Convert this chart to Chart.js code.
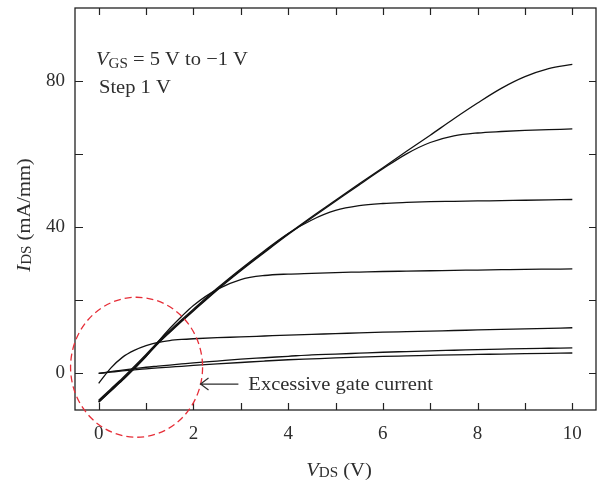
<!DOCTYPE html>
<html>
<head>
<meta charset="utf-8">
<script src="https://cdn.jsdelivr.net/npm/chart.js@4.4.0/dist/chart.umd.min.js"></script>
<style>
  html, body { margin: 0; padding: 0; background: #fff; }
  #wrap { width: 599px; height: 482px; }
</style>
</head>
<body>
<div id="wrap"><canvas id="c" width="599" height="482"></canvas></div>
<script>
/* I-V curves, VGS = 5 V down to -1 V */

// drain voltage samples (V)
const vds = [0, 0.25, 0.5, 0.75, 1, 1.25, 1.5, 1.75, 2, 2.5, 3, 3.5, 4, 4.5, 5, 5.5, 6, 6.5, 7, 7.5, 8, 8.5, 9, 9.5, 10];

// drain current (mA/mm), one array per gate voltage
const ids5  = [-7.6, -4.6, -1.6, 1.6, 4.9, 8.3, 11.4, 14.4, 17.3, 23.0, 28.3, 33.3, 38.2, 42.9, 47.4, 51.9, 56.3, 60.8, 65.2, 69.7, 74.0, 78.0, 81.2, 83.4, 84.6];
const ids4  = [-7.8, -4.8, -1.8, 1.4, 4.7, 8.1, 11.2, 14.2, 17.1, 22.8, 28.1, 33.1, 38.0, 42.6, 47.1, 51.6, 56.0, 60.1, 63.2, 65.0, 65.8, 66.2, 66.5, 66.7, 66.9];
const ids3  = [-7.3, -4.3, -1.3, 1.9, 5.2, 8.6, 11.7, 14.7, 17.6, 23.3, 28.6, 33.6, 38.3, 42.0, 44.6, 45.9, 46.5, 46.8, 47.0, 47.1, 47.2, 47.3, 47.4, 47.5, 47.6];
const ids2  = [-7.9, -4.9, -1.9, 1.3, 4.6, 8.6, 12.3, 15.6, 18.6, 23.0, 25.7, 26.8, 27.2, 27.4, 27.6, 27.75, 27.9, 28.0, 28.1, 28.2, 28.3, 28.4, 28.5, 28.55, 28.6];
const ids1  = [-2.7, 1.4, 4.4, 6.3, 7.6, 8.5, 9.0, 9.3, 9.5, 9.8, 10.0, 10.25, 10.5, 10.7, 10.9, 11.1, 11.3, 11.45, 11.6, 11.75, 11.9, 12.05, 12.2, 12.35, 12.5];
const ids0  = [0, 0.5, 0.9, 1.3, 1.7, 2.0, 2.3, 2.6, 2.9, 3.4, 3.9, 4.3, 4.7, 5.1, 5.3, 5.55, 5.8, 6.0, 6.2, 6.35, 6.5, 6.65, 6.8, 6.9, 7.0];
const idsM1 = [0, 0.35, 0.7, 1.0, 1.25, 1.5, 1.75, 1.95, 2.2, 2.6, 3.0, 3.4, 3.75, 4.0, 4.25, 4.45, 4.65, 4.8, 4.95, 5.1, 5.2, 5.3, 5.4, 5.5, 5.6];

const curves = [ids5, ids4, ids3, ids2, ids1, ids0, idsM1];

// axes
const xMinorTicks = [0, 1, 2, 3, 4, 5, 6, 7, 8, 9, 10];
const xTickLabels = [0, 2, 4, 6, 8, 10];
const yMinorTicks = [0, 20, 40, 60, 80];
const yTickLabels = [0, 40, 80];

const SERIF = '"Liberation Serif", "DejaVu Serif", serif';
const TXT = '#2e2e2e';
const STRETCH = 1.08;   // the original face is a bit wider than Times

function toXY(ys){ return ys.map((v,i)=>({ x: vds[i], y: v })); }

// text pieces with mixed fonts (italic symbol, subscript), drawn left to right
function richWidth(ctx, parts){
  let w = 0;
  parts.forEach(p=>{ ctx.font = p.font; w += ctx.measureText(p.t).width; });
  return w * STRETCH;
}
function drawRich(ctx, parts, x, y){
  ctx.save();
  ctx.translate(x, y);
  ctx.scale(STRETCH, 1);
  let cx = 0;
  parts.forEach(p=>{
    ctx.font = p.font;
    ctx.fillText(p.t, cx, p.dy || 0);
    cx += ctx.measureText(p.t).width;
  });
  ctx.restore();
}

const overlay = {
  id: 'overlay',
  afterDraw(chart){
    const { ctx, chartArea: a, scales: { x, y } } = chart;
    ctx.save();

    // frame
    ctx.strokeStyle = '#222';
    ctx.lineWidth = 1.3;
    ctx.strokeRect(a.left, a.top, a.right - a.left, a.bottom - a.top);

    // inward ticks on all four sides
    ctx.lineWidth = 1.2;
    ctx.beginPath();
    xMinorTicks.forEach(v=>{
      const px = Math.round(x.getPixelForValue(v)) + 0.5;
      ctx.moveTo(px, a.bottom); ctx.lineTo(px, a.bottom - 7);
      ctx.moveTo(px, a.top);    ctx.lineTo(px, a.top + 7);
    });
    yMinorTicks.forEach(v=>{
      const py = Math.round(y.getPixelForValue(v)) + 0.5;
      ctx.moveTo(a.left, py);  ctx.lineTo(a.left + 8, py);
      ctx.moveTo(a.right, py); ctx.lineTo(a.right - 7, py);
    });
    ctx.stroke();

    ctx.fillStyle = TXT;
    ctx.textBaseline = 'alphabetic';
    ctx.textAlign = 'left';

    // legend note
    drawRich(ctx, [
      { t: 'V', font: 'italic 19px ' + SERIF },
      { t: 'GS', font: '14px ' + SERIF, dy: 3 },
      { t: ' = 5 V to \u22121 V', font: '19px ' + SERIF }
    ], 96, 65);
    drawRich(ctx, [{ t: 'Step 1 V', font: '19px ' + SERIF }], 99, 93);

    // axis titles
    const xt = [
      { t: 'V', font: 'italic 19px ' + SERIF },
      { t: 'DS', font: '14px ' + SERIF, dy: 1 },
      { t: ' (V)', font: '19px ' + SERIF }
    ];
    drawRich(ctx, xt, 339 - richWidth(ctx, xt) / 2, 476);

    const yt = [
      { t: 'I', font: 'italic 19px ' + SERIF },
      { t: 'DS', font: '14px ' + SERIF, dy: 1 },
      { t: ' (mA/mm)', font: '19px ' + SERIF }
    ];
    ctx.save();
    ctx.translate(30, 215);
    ctx.rotate(-Math.PI / 2);
    drawRich(ctx, yt, -richWidth(ctx, yt) / 2, 0);
    ctx.restore();

    // red dashed circle around the low-VDS region
    const cx = x.getPixelForValue(0.8), cy = y.getPixelForValue(1.7);
    ctx.strokeStyle = '#e62e38';
    ctx.lineWidth = 1.3;
    ctx.setLineDash([7, 4]);
    ctx.beginPath();
    ctx.ellipse(cx, cy, 66, 70, 0, 0, Math.PI * 2);
    ctx.stroke();
    ctx.setLineDash([]);

    // arrow + note
    const ax0 = x.getPixelForValue(2.95), ax1 = x.getPixelForValue(2.15), ay = y.getPixelForValue(-2.9);
    ctx.strokeStyle = TXT;
    ctx.lineWidth = 1.2;
    ctx.beginPath();
    ctx.moveTo(ax0, ay); ctx.lineTo(ax1, ay);
    ctx.moveTo(ax1 + 8, ay - 6); ctx.lineTo(ax1, ay); ctx.lineTo(ax1 + 8, ay + 6);
    ctx.stroke();
    drawRich(ctx, [{ t: 'Excessive gate current', font: '19px ' + SERIF }], x.getPixelForValue(3.16), ay + 6);

    ctx.restore();
  }
};

new Chart(document.getElementById('c'), {
  type: 'line',
  data: {
    datasets: curves.map(ys=>({
      data: toXY(ys),
      borderColor: '#111',
      borderWidth: 1.3,
      pointRadius: 0,
      fill: false,
      cubicInterpolationMode: 'monotone'
    }))
  },
  options: {
    responsive: false,
    animation: false,
    layout: { padding: { left: 0, right: 3, top: 8, bottom: 0 } },
    plugins: { legend: { display: false }, tooltip: { enabled: false } },
    scales: {
      x: {
        type: 'linear', min: -0.5, max: 10.5,
        grid: { display: false, drawTicks: false },
        border: { display: false },
        afterBuildTicks: s => { s.ticks = xTickLabels.map(v=>({ value: v })); },
        afterFit: s => { s.height = 72; s.paddingLeft = 0; s.paddingRight = 0; },
        ticks: { padding: 13, color: TXT, font: { family: SERIF, size: 19 } }
      },
      y: {
        type: 'linear', min: -10, max: 100,
        grid: { display: false, drawTicks: false },
        border: { display: false },
        afterBuildTicks: s => { s.ticks = yTickLabels.map(v=>({ value: v })); },
        afterFit: s => { s.width = 75; s.paddingTop = 0; s.paddingBottom = 0; },
        ticks: { padding: 10, color: TXT, font: { family: SERIF, size: 19 } }
      }
    }
  },
  plugins: [overlay]
});
</script>
</body>
</html>
